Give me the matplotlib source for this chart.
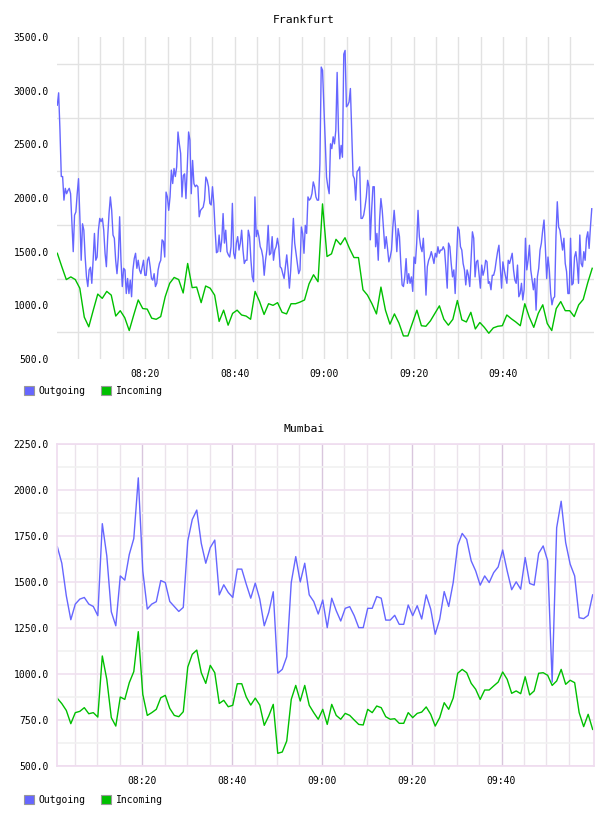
import numpy as np
import matplotlib
matplotlib.use("Agg")
import matplotlib.pyplot as plt
from matplotlib.patches import Patch
from matplotlib.ticker import MultipleLocator, FixedLocator

# minutes after 08:00
time_ticks = [20, 40, 60, 80, 100]
time_labels = ["08:20", "08:40", "09:00", "09:20", "09:40"]

# Frankfurt
fra_out_start, fra_out_end = 0.36, 119.8
fra_out = [
    2865, 2980, 2630, 2200, 2200, 1980, 2090, 2040, 2070, 2090, 2040, 1760, 1500, 1840, 1870, 2040,
    2180, 1825, 1420, 1760, 1700, 1450, 1265, 1175, 1330, 1355, 1205, 1420, 1670, 1420, 1450, 1700,
    1810, 1780, 1810, 1700, 1485, 1360, 1640, 1855, 2010, 1885, 1655, 1625, 1420, 1295, 1450, 1825,
    1420, 1175, 1345, 1330, 1110, 1250, 1110, 1235, 1080, 1330, 1435, 1485, 1345, 1420, 1330, 1295,
    1360, 1420, 1280, 1280, 1420, 1450, 1360, 1250, 1235, 1295, 1175, 1205, 1330, 1390, 1420, 1610,
    1595, 1450, 2055, 2010, 1885, 2010, 2260, 2135, 2275, 2200, 2290, 2615, 2505, 2415, 2010, 2210,
    2225, 1995, 2290, 2615, 2540, 2040,
    2350, 2135, 2105, 2120, 2105, 1825, 1885, 1900, 1915, 1980, 2195, 2165, 2105, 1950, 1935, 2105,
    1950, 1700, 1490, 1500, 1655, 1500, 1610, 1855, 1580, 1700, 1500, 1470, 1450, 1546, 1950, 1485,
    1435, 1580, 1640, 1515, 1580, 1700, 1515, 1390, 1420, 1420, 1700, 1640, 1420, 1265, 1220, 2010,
    1640, 1700, 1640, 1546, 1515, 1450, 1280, 1420, 1515, 1745, 1470, 1485, 1640, 1420, 1515, 1546,
    1625, 1546, 1360, 1345, 1295, 1250, 1360, 1470, 1330, 1160, 1330, 1580, 1810, 1580, 1485, 1390,
    1295, 1330, 1730, 1670, 1485, 1745, 1670, 2010, 1980, 1995, 2040, 2150, 2105, 2010, 1980, 1980,
    2320, 3220, 3190,
    2850, 2540, 2195, 2105, 2040, 2505, 2460, 2570, 2505, 2630, 3170, 2630, 2365, 2490, 2380, 3340,
    3375, 2850, 2865, 2895, 3020, 2630, 2210, 2180, 1980, 2245, 2260, 2290, 1810, 1810, 1840, 1915,
    2010, 2165, 2105, 1610, 1885, 2105, 2105, 1546, 1670, 1420, 1795, 1995, 1885, 1700, 1530, 1640,
    1530, 1405, 1450, 1515, 1730, 1885, 1730, 1500, 1715, 1640, 1390, 1190, 1175, 1265, 1435, 1205,
    1295, 1205, 1265, 1130, 1450, 1390, 1580, 1885, 1640, 1546, 1500, 1625, 1390, 1095, 1360, 1420,
    1450, 1500, 1450, 1390, 1485, 1450, 1546, 1485, 1515, 1515, 1546, 1515, 1345, 1160, 1580, 1546,
    1390, 1265, 1330, 1110, 1420, 1730, 1700, 1546,
    1515, 1390, 1330, 1190, 1330, 1280, 1175, 1420, 1685, 1625, 1265, 1405, 1420, 1295, 1160, 1375,
    1280, 1330, 1420, 1405, 1205, 1220, 1145, 1280, 1280, 1330, 1420, 1500, 1560, 1360, 1160, 1405,
    1330, 1265, 1205, 1420, 1390, 1435, 1485, 1330, 1235, 1205, 1375, 1080, 1110, 1205, 1050, 1145,
    1625, 1330, 1420, 1560, 1330, 1235, 1145, 1250, 955, 1265, 1345, 1515, 1580, 1700, 1795, 1546,
    1250, 1450, 1330, 1110, 1005, 1065, 1080, 1640, 1965, 1730, 1700, 1610, 1515, 1625, 1390, 1315,
    1110, 1110, 1625, 1190, 1205, 1450, 1500, 1390, 1205, 1655, 1390, 1360, 1500, 1420, 1625, 1685,
    1530, 1730, 1900,
]
fra_in_start, fra_in_end = 0.36, 119.9
fra_in = [
    1485, 1360, 1240, 1265, 1240, 1160, 890, 800, 955, 1105, 1065, 1130, 1095, 900, 950, 885,
    765, 910, 1050, 970, 965, 880, 870, 895, 1080, 1205, 1260, 1240, 1115, 1390, 1165,
    1170, 1025, 1180, 1160, 1095, 850, 955, 815, 925, 955, 910, 900, 870, 1130, 1035, 915,
    1015, 1000, 1025, 935, 920, 1015, 1015, 1030, 1050, 1200, 1285, 1220, 1945, 1455,
    1480, 1615, 1565, 1630, 1530, 1445, 1445, 1145, 1095, 1015, 920, 1170, 955, 825, 920, 835,
    715, 715, 835, 955, 810, 805, 855, 925, 995, 870, 815, 870, 1045,
    865, 845, 935, 780, 840, 795, 740, 790, 805, 810, 910, 875, 845, 810, 1015, 890,
    795, 925, 1005, 830, 765, 970, 1035, 950, 950, 895, 1005, 1055, 1210, 1345,
]

# Mumbai
mum_start, mum_end = 1.07, 120.3
mum_out = [
    1692, 1602, 1425, 1295, 1380, 1407, 1416, 1380, 1367, 1317, 1817, 1642, 1338, 1262, 1533, 1510,
    1650, 1736, 2066, 1560, 1353, 1380, 1393, 1508, 1497, 1394, 1367, 1340, 1362, 1723, 1840, 1891,
    1710, 1602, 1687, 1728, 1430, 1485, 1443, 1416, 1570, 1570, 1488, 1412, 1494, 1407, 1262, 1335,
    1447, 1004, 1025, 1094, 1497, 1638, 1500, 1602, 1430,
    1394, 1326, 1402, 1252, 1412, 1344, 1288, 1357, 1366, 1317, 1252, 1252, 1357, 1357, 1421, 1412,
    1293, 1293, 1319, 1270, 1270, 1375, 1317, 1371, 1299, 1430, 1353, 1216, 1297, 1448, 1367, 1497,
    1699, 1764, 1732, 1615, 1560, 1483, 1533, 1497, 1551, 1582, 1674, 1560, 1458, 1501, 1461, 1633,
    1492, 1483, 1656, 1696, 1615, 956, 1795, 1939, 1714, 1597, 1533, 1306, 1301, 1319, 1430,
]
mum_in = [
    868, 839, 802, 730, 790, 797, 817, 784, 790, 766, 1098, 971, 763, 717, 875, 862,
    953, 1013, 1230, 889, 775, 790, 808, 871, 884, 813, 775, 768, 795, 1038, 1107, 1130,
    1007, 949, 1047, 1007, 840, 857, 822, 830, 947, 947, 875, 831, 869, 831, 721, 772,
    835, 569, 576, 636, 862, 938, 853, 938, 830,
    790, 754, 808, 726, 835, 775, 754, 786, 775, 750, 726, 723, 808, 790, 826, 817,
    768, 754, 757, 732, 732, 790, 763, 786, 793, 821, 781, 717, 763, 844, 808, 869,
    1004, 1025, 1007, 949, 917, 862, 913, 913, 935, 956, 1011, 971, 895, 908, 893, 985,
    886, 908, 1004, 1007, 993, 938, 962, 1025, 944, 966, 953, 790, 714, 781, 699,
]

out_color = "#6666ff"
in_color = "#00c000"
plt.rcParams["font.family"] = "DejaVu Sans Mono"

fig = plt.figure(figsize=(6.08, 8.16), dpi=100)
W, H = 608, 816


def add_axes(left, top, right, bottom):
    return fig.add_axes([left / W, 1 - bottom / H, (right - left) / W, (bottom - top) / H])


def style_time_axis(ax):
    ax.xaxis.set_major_locator(FixedLocator(time_ticks))
    ax.set_xticklabels(time_labels)
    # grid every 5 minutes, none at 10:00
    ax.xaxis.set_minor_locator(FixedLocator(np.arange(5, 120, 5)))
    ax.tick_params(which="both", length=0, labelsize=7, colors="#000000")
    ax.tick_params(axis="x", pad=7)
    ax.tick_params(axis="y", pad=6)


# ---- Frankfurt
ax1 = add_axes(57, 37, 594, 359)
ax1.plot(np.linspace(fra_out_start, fra_out_end, len(fra_out)), fra_out, color=out_color, lw=1.0)
ax1.plot(np.linspace(fra_in_start, fra_in_end, len(fra_in)), fra_in, color=in_color, lw=1.0)
ax1.set_xlim(0.29, 120.3)
ax1.set_ylim(500, 3500)
ax1.yaxis.set_major_locator(MultipleLocator(500))
ax1.yaxis.set_minor_locator(FixedLocator(np.arange(750, 3500, 500)))
ax1.yaxis.set_major_formatter(lambda v, p: f"{v:.1f}")
style_time_axis(ax1)
ax1.grid(True, axis="x", which="both", color="#e2e2e2", lw=1.0)
ax1.grid(True, axis="y", which="minor", color="#e2e2e2", lw=1.0)
for s in ax1.spines.values():
    s.set_visible(False)
ax1.set_axisbelow(True)
fig.text(0.5, 1 - 20 / H, "Frankfurt", ha="center", va="center", fontsize=8.2)

# ---- Mumbai
ax2 = add_axes(57, 444, 594, 766)
ax2.plot(np.linspace(mum_start, mum_end, len(mum_out)), mum_out, color=out_color, lw=1.0)
ax2.plot(np.linspace(mum_start, mum_end, len(mum_in)), mum_in, color=in_color, lw=1.0)
ax2.set_xlim(1.0, 120.6)
ax2.set_ylim(500, 2250)
ax2.yaxis.set_major_locator(MultipleLocator(250))
ax2.yaxis.set_minor_locator(MultipleLocator(125))
ax2.yaxis.set_major_formatter(lambda v, p: f"{v:.1f}")
style_time_axis(ax2)
ax2.grid(True, axis="x", which="major", color="#d9c6dd", lw=1.0)
ax2.grid(True, axis="x", which="minor", color="#ebe3eb", lw=1.0)
ax2.grid(True, axis="y", which="major", color="#f0e0f0", lw=1.2)
ax2.grid(True, axis="y", which="minor", color="#f1f1f1", lw=1.2)
for s in ax2.spines.values():
    s.set_color("#efdcef")
    s.set_linewidth(1.2)
ax2.set_axisbelow(True)
fig.text(0.5, 1 - 429 / H, "Mumbai", ha="center", va="center", fontsize=8.2)

# legends
handles = [
    Patch(facecolor=out_color, edgecolor="#999999", lw=0.8),
    Patch(facecolor=in_color, edgecolor="#999999", lw=0.8),
]
for y in (386, 795):
    fig.legend(handles, ["Outgoing", "Incoming"], loc="upper left",
               bbox_to_anchor=(24 / W, 1 - y / H), ncol=2, frameon=False,
               fontsize=7, handlelength=1.05, handleheight=1.05,
               handletextpad=0.45, columnspacing=1.6, borderpad=0, borderaxespad=0)

fig.savefig("out.png", dpi=100)
